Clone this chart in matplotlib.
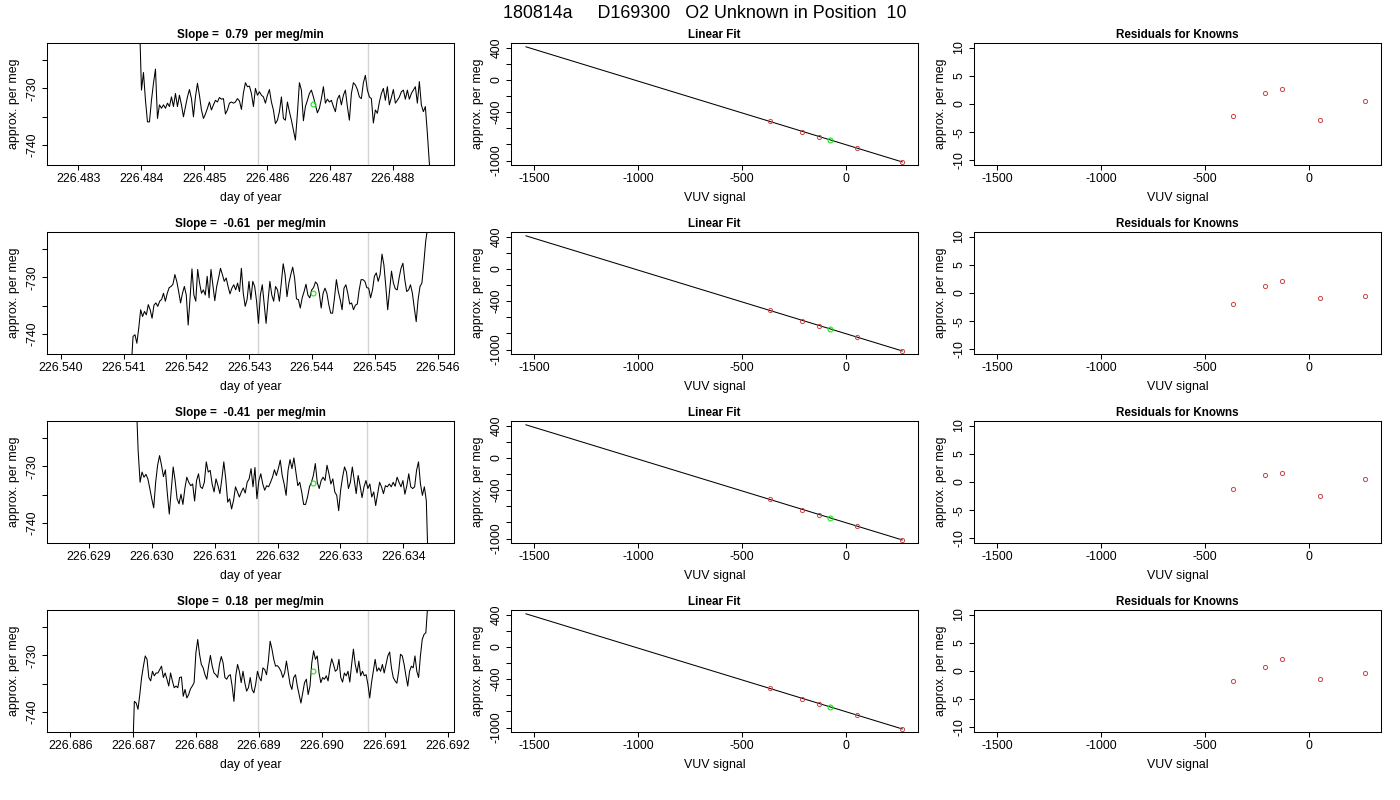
import numpy as np
import matplotlib
matplotlib.use('Agg')
import matplotlib.pyplot as plt
from matplotlib.ticker import MultipleLocator, FormatStrFormatter

plt.rcParams['font.family'] = ['Liberation Sans', 'DejaVu Sans']
plt.rcParams['axes.unicode_minus'] = False

# ---- data ----
main_title = '180814a     D169300   O2 Unknown in Position  10'
slopes = ['0.79', '-0.61', '-0.41', '0.18']

# time series (approx. per meg), sampled on a regular time grid
ts_start = [226.48397, 226.54112, 226.62975, 226.68699]
ts_end = [226.48861, 226.54587, 226.63440, 226.69171]

ts1 = [-718,
       -730.3, -727.2, -732.1, -735.9, -735.9, -732.1, -729.1, -726.6, -735.3, -732.9,
       -733.5, -732.9, -733.5, -732.6, -733.2, -731.5, -733.2, -730.9, -733.2, -731.2,
       -732.9, -735.0, -733.2, -731.5, -730.2, -731.8, -735.0, -731.5, -729.1, -731.2,
       -733.8, -735.3, -734.5, -733.5, -732.4, -733.8, -732.9, -732.1, -732.4, -731.6,
       -731.9, -731.8, -734.5, -733.8, -732.6, -732.4, -732.6, -732.4, -731.8, -732.2,
       -733.7, -730.8, -729.0, -729.7, -729.6, -730.9, -733.2, -730.0, -731.2, -730.6,
       -731.2, -731.5, -732.6, -731.2, -730.2, -732.4, -733.8, -736.2, -735.6,
       -734.1, -731.5, -735.3, -735.6, -732.4, -734.1, -735.6, -737.4, -739.1, -734.4,
       -729.0, -730.3, -735.7, -733.2, -732.1, -730.9, -730.3, -731.5, -732.9, -734.3,
       -733.5, -731.8, -729.7, -732.6, -731.9, -732.4, -732.1, -733.2, -734.1, -731.9,
       -731.2, -732.9, -731.2, -730.3, -733.2, -735.6, -730.9, -729.0, -729.4, -730.2,
       -731.5, -731.8, -729.0, -727.7, -730.3, -731.5, -731.8, -736.1, -733.8, -734.4,
       -732.4, -730.9, -730.0, -732.1, -729.7, -732.9, -731.6, -730.2, -732.6, -732.1,
       -731.5, -730.6, -730.3, -731.9, -730.3, -731.9, -730.9, -730.3, -729.7, -732.6,
       -728.8, -732.9, -734.1, -733.2, -737.9, -743.2,
       -746]

ts2 = [-746,
       -740.4, -740.1, -741.6, -738.9, -735.7, -736.9, -736.0, -736.6, -734.8, -735.7,
       -737.2, -734.9, -734.5, -735.1, -734.2, -733.9, -732.8, -734.2, -732.8, -731.8,
       -731.6, -731.2, -729.5, -730.7, -732.5, -734.5, -732.8, -731.6, -733.1, -738.4,
       -733.6, -728.5, -733.1, -734.2, -728.6, -731.0, -732.8, -732.2, -733.1, -729.8,
       -733.6, -728.6, -731.3, -734.1, -731.6, -730.1, -728.4, -729.5, -730.7, -730.1,
       -731.6, -732.9, -731.9, -731.3, -732.2, -731.0, -732.5, -728.4, -732.8, -735.1,
       -733.9, -730.7, -733.9, -730.7, -731.6, -734.2, -738.1, -733.1, -731.3, -734.8,
       -738.1, -734.2, -730.7, -733.1, -734.2, -731.6, -732.2,
       -734.2, -731.0, -727.6, -729.5, -733.4, -731.0, -729.5, -728.2, -730.1, -733.8,
       -733.9, -735.4, -733.6, -732.5, -731.2, -733.1, -733.6, -732.2, -731.8, -730.8,
       -731.2, -732.8, -735.4, -732.8, -731.9, -732.8, -734.8, -736.3, -736.3, -733.6,
       -730.4, -732.5, -733.9, -735.7, -731.9, -731.3, -732.8, -734.7, -734.5, -735.7,
       -734.9, -734.7, -732.2, -730.4, -730.4, -730.7, -731.8, -731.9, -733.6, -732.2,
       -729.8, -729.2, -730.7, -729.5, -725.9, -727.8, -731.6, -735.7, -732.2, -728.9,
       -731.0, -732.0, -732.2, -730.1, -728.4, -727.5, -730.4, -732.5, -732.2, -731.3,
       -732.8, -735.4, -737.8, -733.9, -731.6, -731.0, -727.5, -723.6, -721.3,
       -716]

ts3 = [-718,
       -727.2, -732.8, -731.0, -731.9, -731.4, -732.2, -733.9, -735.7, -737.3, -732.8,
       -729.8, -728.1, -729.8, -731.8, -730.6, -734.8, -738.4, -734.2, -730.1, -732.5,
       -735.7, -736.6, -734.9, -736.7, -733.9, -731.9, -732.8, -733.4, -733.1, -736.1,
       -732.5, -731.3, -733.6, -733.9, -732.8, -729.2, -731.0, -730.7, -733.1, -734.5,
       -732.2, -733.4, -734.8, -732.2, -729.2, -732.2, -736.3, -735.7, -737.5, -736.0,
       -733.6, -734.5, -735.4, -734.5, -733.8, -734.7, -732.8, -732.2, -730.4, -733.6,
       -730.2, -735.7, -732.5, -731.3, -733.1, -734.2, -733.4, -733.6, -732.8, -731.9,
       -730.6, -731.6,
       -730.4, -728.9, -731.6, -733.1, -735.1, -730.7, -728.8, -730.4, -728.5, -731.0,
       -733.4, -732.8, -734.5, -736.7, -736.7, -735.4, -733.6, -732.8, -731.6, -729.5,
       -732.8, -733.9, -732.5, -731.9, -732.5, -729.8, -731.3, -733.1, -732.2, -734.5,
       -735.1, -737.8, -734.2, -731.9, -730.1, -731.0, -733.9, -732.8, -730.1, -732.5,
       -734.8, -731.6, -733.4, -735.5, -733.6, -732.5, -733.9, -733.1, -735.4, -734.5,
       -736.9, -734.8, -732.8, -733.6, -734.8, -733.4, -733.6, -733.1, -733.6, -732.8,
       -733.5, -731.9, -732.8, -733.6, -732.5, -734.9, -733.4, -731.3, -733.6, -733.9,
       -733.6, -730.7, -729.2, -733.1, -735.1, -733.6, -736.0,
       -748]

ts4 = [-748,
       -738.1, -738.4, -739.5, -736.9, -733.9, -731.9, -730.1, -730.7, -733.9, -734.5,
       -732.8, -733.6, -733.1, -733.1, -732.5, -731.9, -733.9, -733.1, -734.2, -735.4,
       -733.1, -734.5, -735.7, -735.4, -735.7, -733.9, -733.8, -737.2, -736.0, -737.5,
       -736.9, -735.9, -735.4, -734.8, -729.5, -727.2, -729.8, -731.6, -732.2, -733.4,
       -734.2, -731.9, -730.0, -731.9, -733.1, -733.4, -733.9, -731.6, -730.2, -731.3,
       -733.9, -734.2, -733.6, -733.4, -735.4, -738.1, -733.6, -731.6, -732.8, -734.8,
       -732.8, -734.8, -736.3, -735.7, -733.9, -736.0, -736.6, -735.1, -732.8, -733.9,
       -734.5, -732.2, -732.5, -733.4, -731.0, -727.5, -728.9, -730.7, -731.9, -731.8,
       -732.2,
       -732.8, -733.9, -733.1, -731.0, -733.1, -735.1, -736.0, -733.9, -733.4, -735.4,
       -736.9, -738.4, -736.6, -734.8, -734.2, -736.9, -735.4, -731.3, -729.2, -730.7,
       -730.1, -733.1, -734.8, -733.9, -734.2, -733.6, -734.5, -732.2, -730.6, -731.6,
       -732.8, -732.5, -730.7, -733.9, -734.7, -733.1, -733.6, -732.8, -734.7, -731.6,
       -728.9, -731.6, -733.1, -731.0, -733.6, -732.8, -733.6, -733.4, -735.1, -737.5,
       -734.8, -732.8, -730.7, -732.8, -732.2, -732.8, -731.6, -733.1, -731.6, -730.1,
       -729.4, -732.2, -733.9, -734.5, -734.9, -732.8, -729.8, -730.1, -731.6, -733.6,
       -735.4, -732.8, -731.9, -732.2, -730.1, -732.8, -733.9, -730.1, -727.2, -726.3,
       -726.0, -721.3,
       -715]

ts_series = [ts1, ts2, ts3, ts4]

ts_xlim = [(226.48250, 226.48897), (226.53978, 226.54626),
           (226.62833, 226.63481), (226.68563, 226.69210)]
ts_ylim = (-743.5, -722.0)
gray_lines = [(226.48585, 226.48760), (226.54314, 226.54489),
              (226.63169, 226.63343), (226.68898, 226.69073)]
unk_time = [226.48673, 226.54401, 226.63256, 226.68986]
unk_ts_val = [-732.7, -732.8, -732.9, -732.7]

# linear fit of the knowns (same in all rows)
known_x = [-365, -209, -128, 55, 272]
known_y = [-512, -640, -703, -845, -1015]
unk_x = -75
unk_y = -742
fit_x_range = (-1540, 272)

# residuals for knowns, one list per row
resid = [[-2.1, 2.0, 2.6, -2.9, 0.6],
         [-1.9, 1.2, 2.1, -0.9, -0.5],
         [-1.3, 1.2, 1.6, -2.4, 0.5],
         [-1.7, 0.7, 2.2, -1.4, -0.3]]

RED = '#C94545'
GREEN = '#19E619'
FS = 8.9

W, H = 1400, 800
col_left = [47, 511, 974]
col_w = [407, 407, 407]
row_top = [43, 232, 421, 610]
ax_h = 122


def style(ax):
    for s in ax.spines.values():
        s.set_linewidth(0.75)
        s.set_color('black')
    ax.tick_params(direction='out', length=3.6, width=0.75, labelsize=FS, pad=2.5)
    ax.tick_params(axis='y', labelrotation=90)
    for lab in ax.get_yticklabels():
        lab.set_va('center')
    ax.yaxis.set_label_coords(-0.066, 0.5)
    ax.xaxis.set_label_coords(0.5, -0.295)
    ax.xaxis.label.set_va('baseline')


fig = plt.figure(figsize=(W / 100, H / 100), dpi=100)
fig.text(705 / W, 1 - 18.5 / H, main_title, ha='center', va='baseline', fontsize=12.9)

b, a = np.polyfit(known_x, known_y, 1)

for r in range(4):
    axes = []
    for c in range(3):
        ax = fig.add_axes([col_left[c] / W, 1 - (row_top[r] + ax_h) / H,
                           col_w[c] / W, ax_h / H])
        axes.append(ax)
    ax1, ax2, ax3 = axes

    # time series
    y = np.array(ts_series[r])
    t = np.linspace(ts_start[r], ts_end[r], len(y))
    for g in gray_lines[r]:
        ax1.axvline(g, color='#d3d3d3', lw=1.0, zorder=1)
    ax1.plot(t, y, color='black', lw=0.75, zorder=2)
    ax1.plot(unk_time[r], unk_ts_val[r], 'o', mfc='none', mec=GREEN, ms=3.5, mew=0.8, zorder=3)
    ax1.set_xlim(*ts_xlim[r])
    ax1.set_ylim(*ts_ylim)
    ax1.xaxis.set_major_locator(MultipleLocator(0.001))
    ax1.xaxis.set_major_formatter(FormatStrFormatter('%.3f'))
    ax1.set_yticks([-725, -730, -735, -740])
    ax1.set_yticklabels(['', '-730', '', '-740'])
    ax1.set_title('Slope =  %s  per meg/min' % slopes[r], fontsize=8.4,
                  fontweight='bold', pad=3.9)
    ax1.set_xlabel('day of year', fontsize=FS)
    ax1.set_ylabel('approx. per meg', fontsize=FS)
    style(ax1)

    # linear fit
    lx = np.array(fit_x_range)
    ax2.plot(lx, a + b * lx, color='black', lw=0.75)
    ax2.plot(known_x, known_y, 'o', mfc='none', mec=RED, ms=3, mew=0.7)
    ax2.plot(unk_x, unk_y, 'o', mfc='none', mec=GREEN, ms=3.5, mew=0.8)
    ax2.set_xlim(-1612, 348)
    ax2.set_ylim(-1054, 457)
    ax2.set_xticks([-1500, -1000, -500, 0])
    ax2.set_yticks([-1000, -800, -600, -400, -200, 0, 200, 400])
    ax2.set_yticklabels(['-1000', '', '', '-400', '', '0', '', '400'])
    ax2.set_title('Linear Fit', fontsize=8.4, fontweight='bold', pad=3.9)
    ax2.set_xlabel('VUV signal', fontsize=FS)
    ax2.set_ylabel('approx. per meg', fontsize=FS)
    style(ax2)

    # residuals
    ax3.plot(known_x, resid[r], 'o', mfc='none', mec=RED, ms=3, mew=0.7)
    ax3.set_xlim(-1612, 348)
    ax3.set_ylim(-10.8, 10.8)
    ax3.set_xticks([-1500, -1000, -500, 0])
    ax3.set_yticks([-10, -5, 0, 5, 10])
    ax3.set_title('Residuals for Knowns', fontsize=8.4, fontweight='bold', pad=3.9)
    ax3.set_xlabel('VUV signal', fontsize=FS)
    ax3.set_ylabel('approx. per meg', fontsize=FS)
    style(ax3)

fig.savefig('out.png', dpi=100)
